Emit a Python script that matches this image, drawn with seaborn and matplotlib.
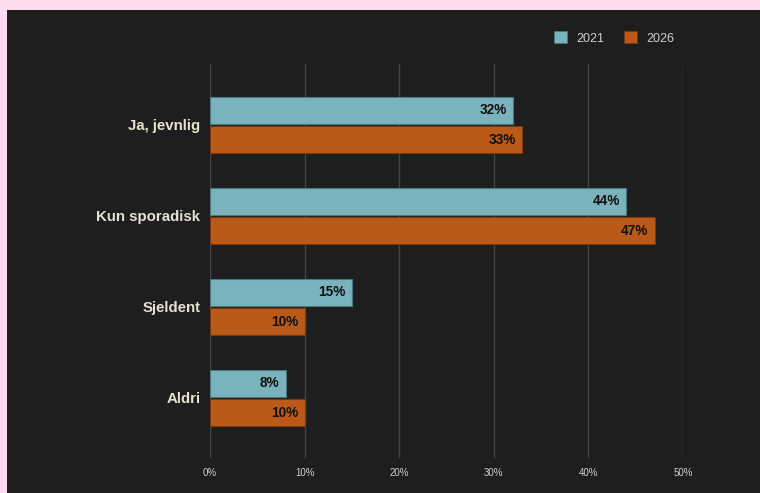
import matplotlib
matplotlib.use("Agg")
import matplotlib.pyplot as plt
import seaborn as sns
import pandas as pd
from matplotlib.patches import Rectangle, Patch

categories = ["Ja, jevnlig", "Kun sporadisk", "Sjeldent", "Aldri"]
values_2021 = [32, 44, 15, 8]
values_2026 = [33, 47, 10, 10]
series = ["2021", "2026"]
x_ticks = [0, 10, 20, 30, 40, 50]
x_tick_labels = ["0%", "10%", "20%", "30%", "40%", "50%"]

df = pd.DataFrame({
    "category": categories * 2,
    "value": values_2021 + values_2026,
    "year": [series[0]] * len(categories) + [series[1]] * len(categories),
})

colors = {"2021": "#7ab3bc", "2026": "#bb5a18"}
edge_colors = {"2021": "#4a7a80", "2026": "#7a380c"}
bg = "#1e1e1e"

sns.set_theme(style="dark")
plt.rcParams["font.family"] = ["Liberation Sans", "DejaVu Sans"]

fig = plt.figure(figsize=(7.6, 4.93), dpi=100)
fig.patch.set_facecolor("#fddcef")
fig.patches.append(Rectangle((7 / 760, 0), 1, 1 - 10 / 493, transform=fig.transFigure,
                             facecolor=bg, edgecolor="none", zorder=-10))

ax = fig.add_axes([210 / 760, 1 - 458 / 493, (683 - 210) / 760, (458 - 64) / 493])
ax.set_zorder(5)
ax.set_facecolor(bg)

sns.barplot(data=df, y="category", x="value", hue="year", orient="h",
            palette=colors, saturation=1, width=0.64, gap=0.07, ax=ax, legend=False,
            order=categories, hue_order=series, zorder=3)

for container, yr in zip(ax.containers, series):
    for bar in container:
        bar.set_edgecolor(edge_colors[yr])
        bar.set_linewidth(0.8)
    labels = [f"{int(v)}%" for v in container.datavalues]
    ax.bar_label(container, labels=labels, padding=-4.5, color="#111111",
                 fontsize=9.8, fontweight="bold", label_type="edge")

for t in ax.texts:
    t.set_ha("right")

ax.set_xlim(0, 50)
ax.set_ylim(3.66, -0.67)
ax.set_xticks(x_ticks)
ax.set_xticklabels(x_tick_labels, color="#cfcfcf", fontsize=7)
ax.tick_params(axis="x", length=0, pad=7)
ax.tick_params(axis="y", length=0, pad=7)
for lab in ax.get_yticklabels():
    lab.set_color("#e6e2d3")
    lab.set_fontweight("bold")
    lab.set_fontsize(10.8)
ax.set_xlabel("")
ax.set_ylabel("")
ax.grid(axis="x", color="#444444", linewidth=1, zorder=0)
ax.grid(axis="y", visible=False)
ax.set_axisbelow(True)
for s in ax.spines.values():
    s.set_visible(False)

handles = [Patch(facecolor=colors[s], edgecolor=edge_colors[s], linewidth=0.5, label=s) for s in series]
leg = fig.legend(handles=handles, loc="center", bbox_to_anchor=(614 / 760, 1 - 38 / 493),
                 ncol=2, frameon=False, fontsize=9, handlelength=1.05, handleheight=1.05,
                 columnspacing=1.6, handletextpad=0.72)
for t in leg.get_texts():
    t.set_color("#d0d0d0")

fig.savefig("out.png", dpi=100, facecolor=fig.get_facecolor())
